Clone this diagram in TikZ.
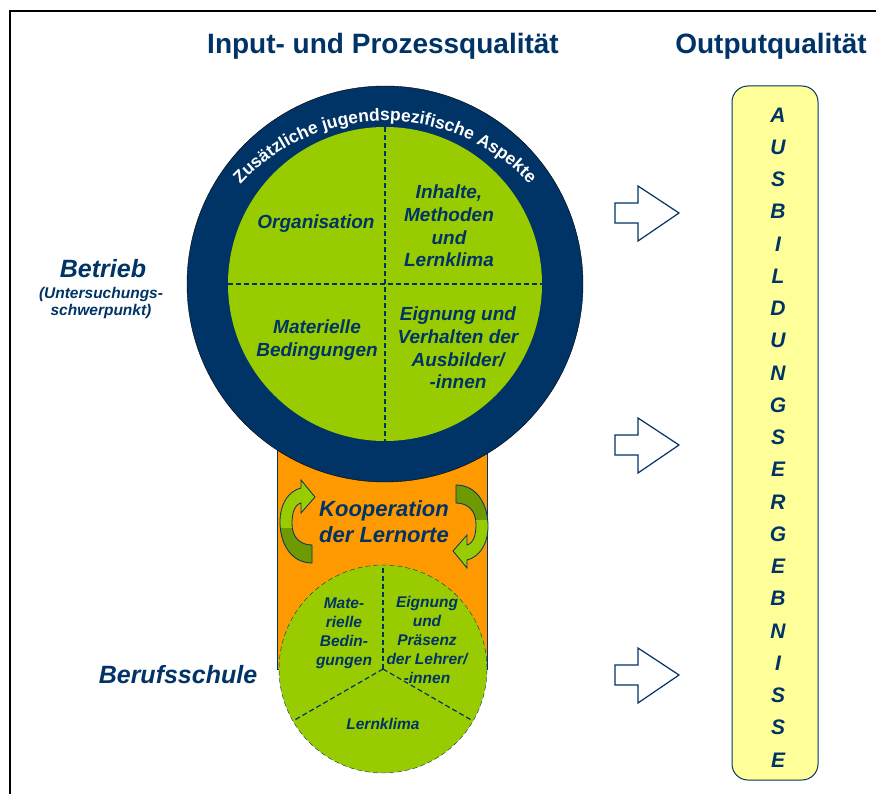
\documentclass[tikz,border=0pt]{standalone}
\usepackage{fontspec}
\setmainfont{Liberation Sans}
\usepackage{xcolor}
\usepackage{tikz}
\usetikzlibrary{decorations.text}

\definecolor{kblau}{HTML}{003366}
\definecolor{kgruen}{HTML}{99CC00}
\definecolor{kdunkel}{HTML}{6E9900}
\definecolor{korange}{HTML}{FF9900}
\definecolor{kgelb}{HTML}{FFFF99}

% curved arrow of the cooperation band (left one, the right one is turned by 180)
\def\koophook{(312,-563) .. controls (292,-563) and (280,-545) .. (280,-522)
  .. controls (280,-503) and (289,-491) .. (301,-488) -- (301,-480) -- (315,-497)
  -- (301,-513) -- (301,-503) .. controls (294,-505) and (292,-514) .. (292,-524)
  .. controls (292,-537) and (300,-545) .. (312,-545) -- cycle}

\begin{document}
\begin{tikzpicture}[x=1pt,y=1pt,
    lab/.style={text=kblau, align=center, inner sep=0pt},
    titel/.style={lab, font=\bfseries\fontsize{28}{30}\selectfont},
    gross/.style={lab, font=\bfseries\itshape\fontsize{19}{22.7}\selectfont},
    klein/.style={lab, font=\bfseries\itshape\fontsize{15.5}{19}\selectfont},
    seite/.style={lab, font=\bfseries\itshape\fontsize{25}{28}\selectfont},
    buchstabe/.style={lab, font=\bfseries\itshape\fontsize{21}{22}\selectfont},
    teiler/.style={kblau, line width=1.2pt, dash pattern=on 5pt off 3pt}]
    \useasboundingbox (0,0) rectangle (876,-794);

    % frame
    \draw[line width=2pt] (10,-800) -- (10,-11) -- (880,-11);

    % titles
    \node[titel] (titelInput) at (383,-46) {Input- und Prozessqualität};
    \node[titel] (titelOutput) at (771,-46) {Outputqualität};

    % orange band between the two learning places
    \draw[kblau, fill=korange] (277,-400) rectangle (487,-669);

    % Betrieb
    \draw[black, fill=kblau] (385,-284) circle (198);
    \fill[kgruen] (385,-284) circle (157);
    \draw[teiler] (385,-127) -- (385,-441);
    \draw[teiler] (228,-284) -- (542,-284);
    \path[decorate, decoration={text along path, text align=center, text color=white,
        text={|\fontsize{17.5}{17.5}\selectfont\bfseries|Zusätzliche jugendspezifische Aspekte}}]
        (385,-318) ++(140:197) arc (140:40:197);
    \node[gross] (organisation) at (316,-224) {Organisation};
    \node[gross] (inhalte) at (449,-226) {Inhalte,\\Methoden\\und\\Lernklima};
    \node[gross] (materiell) at (317,-340) {Materielle\\Bedingungen};
    \node[gross] (ausbilder) at (458,-348) {Eignung und\\Verhalten der\\Ausbilder/\\-innen};

    % Berufsschule
    \draw[kblau, dash pattern=on 5pt off 3pt, fill=kgruen] (383,-669) circle (104);
    \foreach \w in {90,210,330}
        \draw[teiler] (383,-669) -- ++(\w:104);
    \node[klein] (materiellS) at (344,-633) {Mate-\\rielle\\Bedin-\\gungen};
    \node[klein] (lehrer) at (427,-640) {Eignung\\und\\Präsenz\\der Lehrer/\\-innen};
    \node[klein] (lernklimaS) at (383,-724) {Lernklima};

    % cooperation
    \foreach \r in {0,180} {
        \begin{scope}[rotate around={\r:(384,-524)}]
            \fill[kgruen] \koophook;
            \begin{scope}
                \clip \koophook;
                \fill[kdunkel] (270,-528) rectangle (320,-570);
            \end{scope}
            \draw[kblau, line width=0.8pt] \koophook;
        \end{scope}
    }
    \node[lab, font=\bfseries\itshape\fontsize{22}{26}\selectfont] (kooperation) at (384,-522) {Kooperation\\der Lernorte};

    % left labels
    \node[seite] (betrieb) at (103,-269) {Betrieb};
    \node[lab, font=\bfseries\itshape\fontsize{15.5}{17}\selectfont] (schwerpunkt) at (101,-303) {(Untersuchungs-\\schwerpunkt)};
    \node[seite] (berufsschule) at (178,-675) {Berufsschule};

    % output arrows
    \foreach \y in {213,445,675}
        \draw[kblau, line width=1.2pt, fill=white, shift={(0,-\y)}]
            (615,10) -- (638,10) -- (638,27) -- (679,0) -- (638,-28) -- (638,-10) -- (615,-10) -- cycle;

    % Ausbildungsergebnisse
    \draw[kblau, line width=1pt, fill=kgelb, rounded corners=16pt] (732,-86) rectangle (818,-780);
    \foreach \b [count=\i from 0] in {A,U,S,B,I,L,D,U,N,G,S,E,R,G,E,B,N,I,S,S,E}
        \node[buchstabe] (b\i) at (778,{-115-32.25*\i}) {\b};
\end{tikzpicture}
\end{document}
